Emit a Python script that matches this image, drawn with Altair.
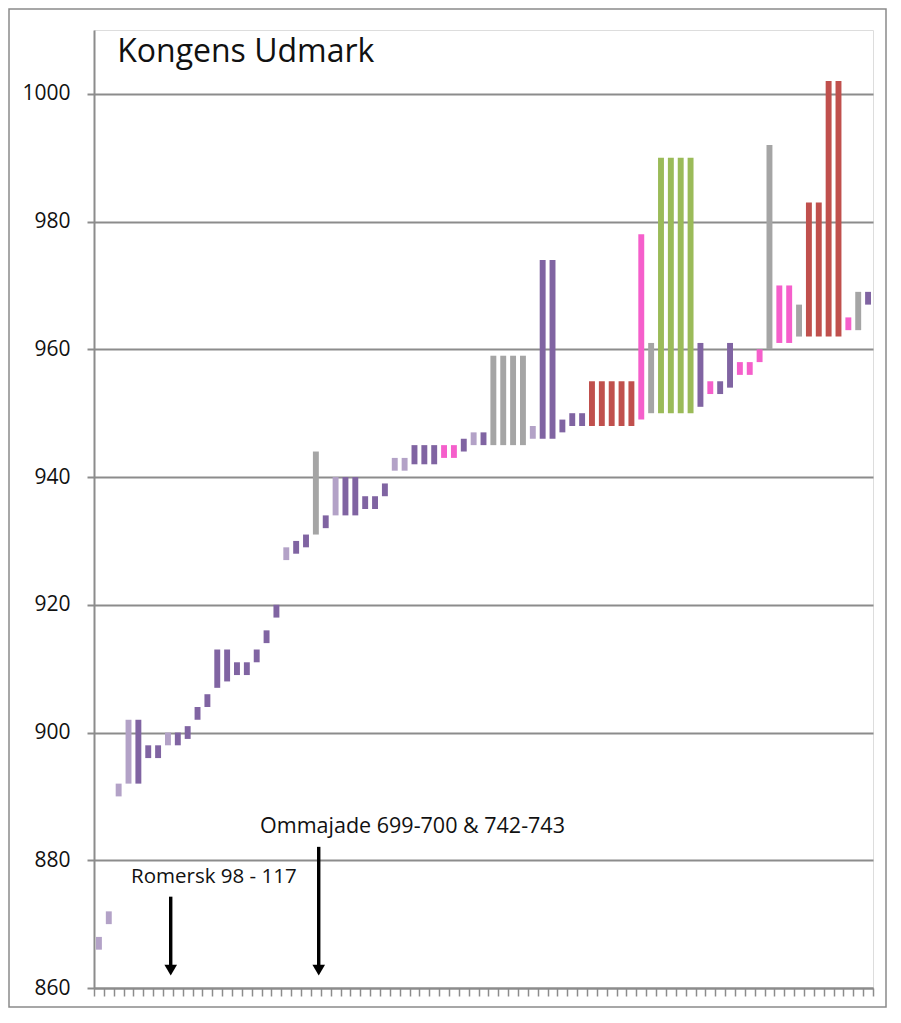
import altair as alt
import pandas as pd

# Floating bars: one per position (0..78), low and high values, colour group
lows = [866, 870, 890, 892, 892, 896, 896, 898, 898, 899,
        902, 904, 907, 908, 909, 909, 911, 914, 918, 927,
        928, 929, 931, 932, 934, 934, 934, 935, 935, 937,
        941, 941, 942, 942, 942, 943, 943, 944, 945, 945,
        945, 945, 945, 945, 946, 946, 946, 947, 948, 948,
        948, 948, 948, 948, 948, 949, 950, 950, 950, 950,
        950, 951, 953, 953, 954, 956, 956, 958, 960, 961,
        961, 962, 962, 962, 962, 962, 963, 963, 967]
highs = [868, 872, 892, 902, 902, 898, 898, 900, 900, 901,
         904, 906, 913, 913, 911, 911, 913, 916, 920, 929,
         930, 931, 944, 934, 940, 940, 940, 937, 937, 939,
         943, 943, 945, 945, 945, 945, 945, 946, 947, 947,
         959, 959, 959, 959, 948, 974, 974, 949, 950, 950,
         955, 955, 955, 955, 955, 978, 961, 990, 990, 990,
         990, 961, 955, 955, 961, 958, 958, 960, 992, 970,
         970, 967, 983, 983, 1002, 1002, 965, 969, 969]
groups = ["L", "L", "L", "L", "D", "D", "D", "L", "D", "D",
          "D", "D", "D", "D", "D", "D", "D", "D", "D", "L",
          "D", "D", "G", "D", "L", "D", "D", "D", "D", "D",
          "L", "L", "D", "D", "D", "P", "P", "D", "L", "D",
          "G", "G", "G", "G", "L", "D", "D", "D", "D", "D",
          "R", "R", "R", "R", "R", "P", "G", "Gr", "Gr", "Gr",
          "Gr", "D", "P", "D", "D", "P", "P", "P", "G", "P",
          "P", "G", "R", "R", "R", "R", "P", "G", "D"]

group_names = ["D", "L", "G", "P", "R", "Gr"]
group_colors = ["#8064a2", "#b3a2c7", "#a5a5a5", "#f55fcb", "#c0504d", "#9bbb59"]

# Annotations
ann_labels = ["Romersk 98 - 117", "Ommajade 699-700 & 742-743"]
ann_text_x = [12.15, 32.3]
ann_text_y = [877.4, 885.2]
ann_size = [20.5, 21.5]
arrow_x = [7.78, 22.79]
arrow_top = [874.3, 882.1]
arrow_head = [862.8, 862.8]

title_text = ["Kongens Udmark"]
title_x = [2.35]
title_y = [1006.6]

y_ticks = [860, 880, 900, 920, 940, 960, 980, 1000]
n_pos = len(lows)

W, H = 779, 958
PAD = {"left": 86, "top": 22, "right": 14, "bottom": 20}
GRID = "#8c8c8c"
FONT = "Open Sans"

bars = pd.DataFrame({
    "x0": [i + 0.2 for i in range(n_pos)],
    "x1": [i + 0.8 for i in range(n_pos)],
    "lo": lows,
    "hi": highs,
    "grp": groups,
})
ann = pd.DataFrame({"label": ann_labels, "tx": ann_text_x, "ty": ann_text_y, "fs": ann_size,
                    "ax": arrow_x, "top": arrow_top, "head": arrow_head})
ttl = pd.DataFrame({"t": title_text, "x": title_x, "y": title_y})

xscale = alt.Scale(domain=[0, n_pos], nice=False, zero=False)
yscale = alt.Scale(domain=[860, 1010], nice=False, zero=False)

xaxis = alt.Axis(values=list(range(n_pos + 1)), tickCount=n_pos + 1, labels=False,
                 title=None, grid=False,
                 tickSize=8, tickColor=GRID, tickWidth=1.5,
                 domainColor=GRID, domainWidth=2)
yaxis = alt.Axis(values=y_ticks, format="d", title=None, grid=True, gridColor=GRID, gridWidth=2,
                 tickSize=7, tickColor=GRID, tickWidth=2,
                 domainColor=GRID, domainWidth=2,
                 labelFont=FONT, labelFontSize=21, labelColor="#111111", labelPadding=17)

base_bars = alt.Chart(bars).mark_rect().encode(
    x=alt.X("x0:Q", scale=xscale, axis=xaxis),
    x2="x1:Q",
    y=alt.Y("lo:Q", scale=yscale, axis=yaxis),
    y2="hi:Q",
    color=alt.Color("grp:N", scale=alt.Scale(domain=group_names, range=group_colors), legend=None),
)

ann_text = alt.Chart(ann).mark_text(font=FONT, color="#111111",
                                    align="center", baseline="middle").encode(
    x=alt.X("tx:Q", scale=xscale), y=alt.Y("ty:Q", scale=yscale), text="label:N",
    size=alt.Size("fs:Q", scale=None, legend=None))

arrow_line = alt.Chart(ann).mark_rule(color="#000000", strokeWidth=3.4).encode(
    x=alt.X("ax:Q", scale=xscale), y=alt.Y("top:Q", scale=yscale), y2="head:Q")

arrow_head_m = alt.Chart(ann).mark_point(shape="triangle-down", filled=True, size=160,
                                         color="#000000", opacity=1).encode(
    x=alt.X("ax:Q", scale=xscale), y=alt.Y("head:Q", scale=yscale))

title_m = alt.Chart(ttl).mark_text(font=FONT, fontSize=32, color="#111111",
                                   align="left", baseline="middle").encode(
    x=alt.X("x:Q", scale=xscale), y=alt.Y("y:Q", scale=yscale), text="t:N")

frame = alt.Chart(ttl).mark_rect(fill=None, stroke="#8a8a8a", strokeWidth=1.5).encode(
    x=alt.value(-PAD["left"] + 1), x2=alt.value(W + PAD["right"] - 1),
    y=alt.value(-PAD["top"] + 1), y2=alt.value(H + PAD["bottom"] - 1))

chart = alt.layer(base_bars, arrow_line, arrow_head_m, ann_text, title_m, frame).properties(
    width=W, height=H, autosize=alt.AutoSizeParams(type="none"), padding=PAD,
).configure_view(stroke=None).configure(background="white")

chart.save("out.html", embed_options={"renderer": "svg", "actions": False})
